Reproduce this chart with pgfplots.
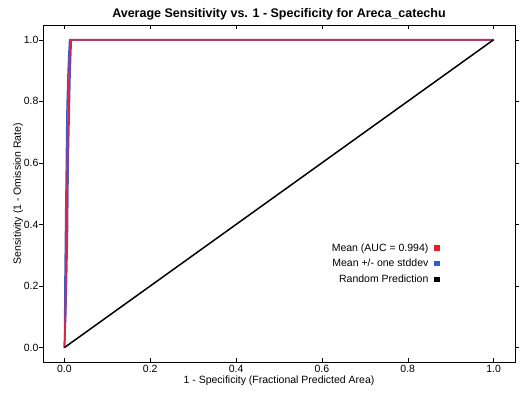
\documentclass[border=0pt]{standalone}
\usepackage{pgfplots}
\pgfplotsset{compat=1.18}
\usepackage{fontspec}
\setmainfont{Liberation Sans}
\definecolor{meanred}{RGB}{218,38,70}
\definecolor{sdblue}{RGB}{60,90,205}
\definecolor{legred}{RGB}{235,30,40}
\definecolor{legblue}{RGB}{50,90,200}
\begin{document}
\begin{tikzpicture}
\begin{axis}[
  scale only axis,
  width=472pt, height=337pt,
  xmin=-0.05, xmax=1.05, ymin=-0.047, ymax=1.048,
  xtick={0,0.2,...,1.0}, ytick={0,0.2,...,1.0},
  /pgf/number format/.cd, fixed, fixed zerofill, precision=1, assume math mode=true,
  /pgfplots/.cd,
  tick style={black, thin},
  major tick length=4pt,
  xtick align=inside, ytick align=outside,
  tick label style={font=\fontsize{10.5}{12}\selectfont},
  yticklabel style={xshift=3pt},
  xlabel={1 - Specificity (Fractional Predicted Area)},
  ylabel={Sensitivity (1 - Omission Rate)},
  label style={font=\fontsize{10.5}{12}\selectfont},
  xlabel style={yshift=4pt},
  ylabel style={yshift=-6pt},
  title={\bfseries Average Sensitivity vs. 1 - Specificity for Areca\_catechu},
  title style={font=\fontsize{12.5}{14}\selectfont, yshift=-5pt},
  axis line style={black, thin},
  legend style={draw=none, fill=none, at={(rel axis cs:0.847,0.364)}, anchor=north east,
    font=\fontsize{10.5}{12}\selectfont, row sep=2.5pt},
  legend cell align=right,
  legend plot pos=right,
  legend image code/.code={\path[draw=none,fill=none] (0pt,-2.6pt) rectangle (9.2pt,2.6pt);
    \fill[draw=none] (4pt,-2.6pt) rectangle (9.2pt,2.6pt);},
]
\coordinate (ll) at (rel axis cs:0,0);
\coordinate (ur) at (rel axis cs:1,1);
% stddev curves (drawn first)
\addplot[sdblue, line width=1.5pt, forget plot] coordinates {
 (0,0) (0.0005,0.08) (0.001,0.2) (0.002,0.32) (0.003,0.45) (0.004,0.55) (0.005,0.68) (0.006,0.78) (0.008,0.88) (0.010,0.95) (0.012,1.0) (1,1)};
\addplot[sdblue, line width=1.5pt, forget plot] coordinates {
 (0,0) (0.003,0.1) (0.005,0.22) (0.007,0.36) (0.008,0.5) (0.009,0.62) (0.011,0.75) (0.013,0.88) (0.015,0.96) (0.016,1.0) (1,1)};
% mean
\addplot[meanred, line width=1.7pt, forget plot] coordinates {
 (0,0) (0.002,0.1) (0.0035,0.25) (0.005,0.4) (0.0065,0.55) (0.008,0.7) (0.010,0.83) (0.012,0.93) (0.014,1.0) (1,1)};
% random
\addplot[black, line width=1.5pt, forget plot] coordinates {(0,0) (1,1)};
\addlegendimage{legred}
\addlegendentry{Mean (AUC = 0.994)}
\addlegendimage{legblue}
\addlegendentry{Mean +/- one stddev}
\addlegendimage{black}
\addlegendentry{Random Prediction}
\end{axis}
\pgfresetboundingbox
\useasboundingbox ([shift={(-43pt,-37pt)}]ll) rectangle ([shift={(7pt,25pt)}]ur);
\end{tikzpicture}
\end{document}
